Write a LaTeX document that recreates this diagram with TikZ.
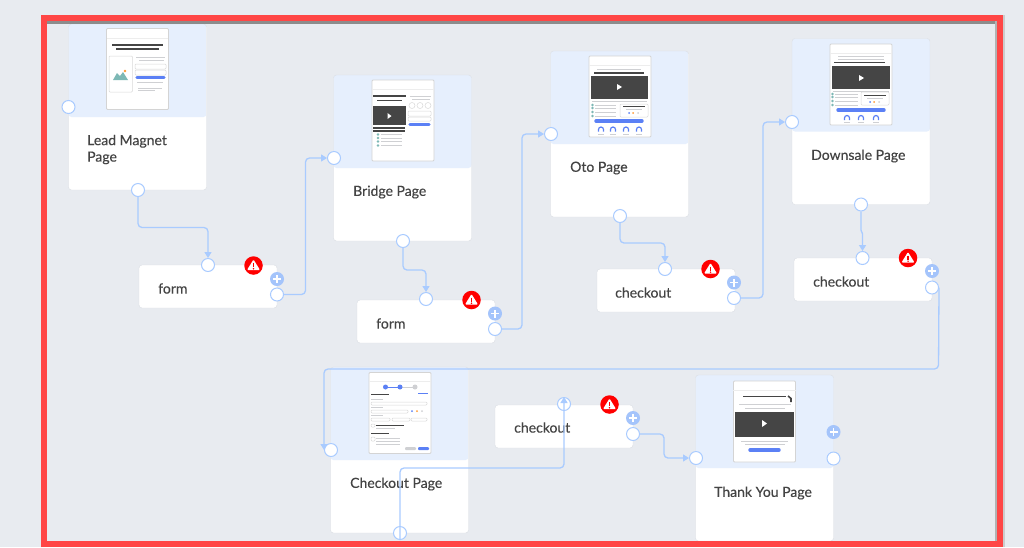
\documentclass[tikz,border=0pt]{standalone}
\usepackage{fontspec}
\setmainfont{Lato}[FakeBold=0.25]
\usetikzlibrary{arrows.meta}
\definecolor{backcol}{HTML}{E8EBF0}
\definecolor{framecol}{HTML}{FF4646}
\definecolor{headcol}{HTML}{E6EFFD}
\definecolor{wirecol}{HTML}{A9CBFF}
\definecolor{pluscol}{HTML}{A4C4FB}
\definecolor{edgecol}{HTML}{DADDE3}
\definecolor{textcol}{HTML}{444444}
\definecolor{darkcol}{HTML}{454545}
\definecolor{greycol}{HTML}{CFD0D3}
\definecolor{bluecol}{HTML}{5B80F5}
\definecolor{tealcol}{HTML}{7DB8B5}
\tikzset{
	card/.style={draw=edgecol, fill=white, rounded corners=3pt, minimum width=138pt, minimum height=166pt, inner sep=0pt,
		path picture={\fill[headcol] (path picture bounding box.north west) rectangle ([yshift=-93pt]path picture bounding box.north east);}},
	smallcard/.style={draw=edgecol, fill=white, rounded corners=3pt, minimum width=138pt, minimum height=43pt, inner sep=0pt},
	title/.style={anchor=west, inner sep=0pt, align=left, text=textcol, font=\fontsize{14}{16.5}\selectfont},
	port/.style={circle, draw=wirecol, line width=1pt, fill=white, minimum size=13pt, inner sep=0pt},
	plusmark/.style={circle, fill=pluscol, minimum size=14pt, inner sep=0pt,
		path picture={\draw[white, line width=1.6pt] ([xshift=-4pt]path picture bounding box.center) -- ([xshift=4pt]path picture bounding box.center);
			\draw[white, line width=1.6pt] ([yshift=-4pt]path picture bounding box.center) -- ([yshift=4pt]path picture bounding box.center);}},
	alertmark/.style={circle, fill=red, minimum size=18.5pt, inner sep=0pt,
		path picture={\fill[white, rounded corners=1pt] ([xshift=-6.5pt,yshift=-4.5pt]path picture bounding box.center) -- ([xshift=6.5pt,yshift=-4.5pt]path picture bounding box.center) -- ([yshift=6pt]path picture bounding box.center) -- cycle;
			\draw[red, line width=1.4pt] ([yshift=2.5pt]path picture bounding box.center) -- ([yshift=-1.5pt]path picture bounding box.center);
			\fill[red] ([yshift=-3.2pt]path picture bounding box.center) circle (0.8pt);}},
	wire/.style={draw=wirecol, line width=1.3pt, rounded corners=4pt, -{Triangle[length=6pt,width=7pt,fill=wirecol]}},
	thumb/.style={draw=black!17, line width=0.8pt, fill=white, rounded corners=1pt, minimum width=62pt, minimum height=81pt, inner sep=0pt},
	video/.style={fill=darkcol},
	play/.style={fill=white},
	dk/.style={draw=darkcol, line width=1.6pt},
	gy/.style={draw=greycol, line width=1pt},
	rule/.style={draw=black!7, line width=0.6pt},
	field/.style={draw=black!15, line width=0.5pt, fill=white, rounded corners=1pt},
	bl/.style={draw=bluecol, line width=3.4pt, line cap=round},
	bullet/.style={fill=tealcol}
}
\begin{document}
\begin{tikzpicture}[x=1pt, y=-1pt]
	\useasboundingbox (0,0) rectangle (1024,547);
	\fill[backcol] (0,0) rectangle (1024,547);
	% cards
	\node[card] (Lead) at (137.5,107) {};
	\node[card] (Bridge) at (402.5,158) {};
	\node[card] (Oto) at (619.5,134) {};
	\node[card] (Downsale) at (861,121.5) {};
	\node[card] (Checkout) at (399.5,450) {};
	\node[card] (Thanks) at (764.5,458) {};
	\node[smallcard] (FormA) at (208,286.5) {};
	\node[smallcard] (FormB) at (426,321.5) {};
	\node[smallcard] (CheckA) at (666,290.5) {};
	\node[smallcard] (CheckB) at (863,279.5) {};
	\node[smallcard] (CheckC) at (564,426.5) {};
	% titles
	\node[title] (LeadText) at (87,149.5) {Lead Magnet\\Page};
	\node[title] (BridgeText) at (353,192) {Bridge Page};
	\node[title] (OtoText) at (570,168) {Oto Page};
	\node[title] (DownsaleText) at (811,156) {Downsale Page};
	\node[title] (CheckoutText) at (350,484) {Checkout Page};
	\node[title] (ThanksText) at (714,493) {Thank You Page};
	\node[title] (FormAText) at (158,288.5) {form};
	\node[title] (FormBText) at (376,323.5) {form};
	\node[title] (CheckAText) at (615,292.5) {checkout};
	\node[title] (CheckBText) at (813,281.5) {checkout};
	\node[title] (CheckCText) at (514,427.5) {checkout};
	% lead magnet thumbnail
	\node[thumb] (LeadThumb) at (137.5,69) {};
	\draw[rule] (107,38) -- (168,38);
	\draw[dk] (112,45) -- (163,45);
	\draw[dk] (116,49) -- (159,49);
	\draw[field] (109,56) rectangle (132.5,92);
	\fill[tealcol] (113,80) -- (117,73) -- (120,76) -- (123,72) -- (128,80) -- cycle;
	\fill[orange!80] (125,71) circle (1.3);
	\draw[gy] (136,57.5) -- (165,57.5);
	\draw[gy] (139,60.5) -- (164,60.5);
	\draw[field] (135,64) rectangle (166,69);
	\draw[field] (135,70) rectangle (166,75);
	\draw[bl] (137,77.5) -- (164,77.5);
	\draw[gy] (137,82) -- (163,82);
	\draw[gy] (138,88.5) -- (162,88.5);
	\draw[gy] (138,90.5) -- (155,90.5);
	% bridge thumbnail
	\node[thumb] (BridgeThumb) at (403,120.5) {};
	\draw[rule] (372,89) -- (434,89);
	\draw[dk] (373,96) -- (406,96);
	\draw[dk] (377,100.5) -- (402,100.5);
	\draw[gy] (410,96) -- (431,96);
	\draw[gy] (412,99) -- (430,99);
	\foreach \x in {412,420,428} \draw[field] (\x,105.5) circle (3);
	\draw[field] (408,111) rectangle (431,116);
	\draw[field] (408,117) rectangle (431,121);
	\draw[bl] (410,124.5) -- (429,124.5);
	\fill[video] (373,106) rectangle (405.5,125);
	\fill[play] (387.5,113) -- (391.5,116) -- (387.5,119) -- cycle;
	\draw[dk] (373,128) -- (405,128);
	\draw[dk] (373,131) -- (405,131);
	\foreach \y in {134.5,138,141.5,145.5} {
		\fill[bullet] (378,\y) circle (1.4);
		\draw[gy] (381,\y) -- (402,\y);
	}
	% oto thumbnail
	\node[thumb] (OtoThumb) at (620,96.5) {};
	\draw[rule] (589,65) -- (651,65);
	\draw[gy] (597,69) -- (641,69);
	\draw[dk] (594,73) -- (644,73);
	\fill[video] (591,76) rectangle (648,98.5);
	\fill[play] (617,84) -- (622,87) -- (617,90) -- cycle;
	\draw[gy] (592,101) -- (647,101);
	\foreach \y in {105,108,112,116} {
		\fill[bullet] (592.5,\y) circle (1.4);
		\draw[gy] (595,\y) -- (616,\y);
	}
	\draw[field] (620,104) rectangle (648,117);
	\draw[dk, line width=0.9pt] (623,106.5) -- (645,106.5);
	\draw[gy] (626,109.5) -- (642,109.5);
	\fill[bluecol] (629,113) circle (1);
	\fill[orange!80] (633,113) circle (1);
	\fill[greycol] (638,113) circle (1);
	\draw[bl] (596,121) -- (642,121);
	\foreach \x in {601,613,626,639} {
		\draw[bluecol, line width=1.2pt] (\x-2.5,131.5) -- (\x-2.5,129.5) arc (180:360:2.5) -- (\x+2.5,131.5);
		\draw[gy] (\x-3,134) -- (\x+3,134);
	}
	% downsale thumbnail
	\node[thumb] (DownsaleThumb) at (861,84.5) {};
	\draw[rule] (830,53) -- (892,53);
	\draw[gy] (838,56) -- (884,56);
	\draw[gy] (838,59) -- (884,59);
	\draw[dk] (834,62.5) -- (885,62.5);
	\fill[video] (832,66) rectangle (890,89);
	\fill[play] (859,75) -- (864,78) -- (859,81) -- cycle;
	\draw[gy] (833,91) -- (889,91);
	\foreach \y in {94,97,101,105} {
		\fill[bullet] (832.5,\y) circle (1.4);
		\draw[gy] (835,\y) -- (858,\y);
	}
	\draw[field] (861,92) rectangle (889,105);
	\draw[dk, line width=0.9pt] (864,95) -- (886,95);
	\draw[gy] (867,98) -- (883,98);
	\fill[bluecol] (870,102) circle (1);
	\fill[orange!80] (874,102) circle (1);
	\fill[greycol] (879,102) circle (1);
	\draw[bl] (838,110) -- (884,110);
	\foreach \x in {847,861,876} {
		\draw[bluecol, line width=1.2pt] (\x-2.5,120) -- (\x-2.5,118) arc (180:360:2.5) -- (\x+2.5,120);
		\draw[gy] (\x-3,122.5) -- (\x+3,122.5);
	}
	% checkout thumbnail
	\node[thumb] (CheckoutThumb) at (400,413) {};
	\draw[rule] (369,381) -- (431,381);
	\draw[bluecol, line width=0.8pt] (385.5,387) -- (400,387);
	\draw[greycol, line width=0.8pt] (400,387) -- (415,387);
	\fill[bluecol] (385.5,387) circle (2.5);
	\fill[bluecol] (400,387) circle (2.5);
	\fill[greycol] (415,387) circle (2.5);
	\draw[dk, line width=1pt] (371,394) -- (389,394);
	\draw[bluecol, line width=0.9pt] (418,393.5) -- (428,393.5);
	\draw[gy] (371,399) -- (383,399);
	\draw[field] (371,402) rectangle (427,405);
	\draw[gy] (371,407.5) -- (383,407.5);
	\draw[field] (371,410) rectangle (408,413);
	\fill[bluecol] (412,411) circle (1);
	\fill[orange!80] (417,411) circle (1);
	\fill[greycol] (422,411) circle (1);
	\draw[gy] (371,415.5) -- (383,415.5);
	\draw[field] (371,418) rectangle (390,421);
	\draw[field] (392,418) rectangle (410,421);
	\draw[field] (411,418) rectangle (427,421);
	\draw[field] (371,424) rectangle (375,427);
	\draw[dk, line width=0.9pt] (376,425.5) -- (404,425.5);
	\draw[gy] (376,428) -- (395,428);
	\draw[dk, line width=1pt] (371,433) -- (389,433);
	\draw[field] (371,437) rectangle (375,441);
	\foreach \y in {438,441,444} \draw[gy] (376,\y) -- (400,\y);
	\fill[greycol, rounded corners=1pt] (405,447) rectangle (416,450);
	\fill[bluecol, rounded corners=1pt] (418,447) rectangle (429,450);
	% thank you thumbnail
	\node[thumb] (ThanksThumb) at (764.5,421.5) {};
	\draw[rule] (733,390) -- (796,390);
	\draw[dk] (743,396.5) -- (786,396.5);
	\draw[dk] (788,396) -- (791,398.5) -- (791,402);
	\draw[gy] (739,404.5) -- (791,404.5);
	\draw[gy] (745,408) -- (785,408);
	\fill[video] (735,411.5) rectangle (794,436.5);
	\fill[play] (762,420) -- (767,423.5) -- (762,427) -- cycle;
	\draw[gy] (741,441) -- (788,441);
	\draw[gy] (745,444) -- (785,444);
	\draw[bl] (750,450) -- (779,450);
	% ports
	\node[port] (LeadIn) at (68.5,107) {};
	\node[port] (LeadOut) at (138,190) {};
	\node[port] (FormAIn) at (208,265) {};
	\node[port] (FormAOut) at (277,294.5) {};
	\node[port] (BridgeIn) at (334,158) {};
	\node[port] (BridgeOut) at (403,241) {};
	\node[port] (FormBIn) at (426,299) {};
	\node[port] (FormBOut) at (495,329) {};
	\node[port] (OtoIn) at (551,134) {};
	\node[port] (OtoOut) at (620,216) {};
	\node[port] (CheckAIn) at (665,269) {};
	\node[port] (CheckAOut) at (734,298) {};
	\node[port] (DownsaleIn) at (792,122) {};
	\node[port] (DownsaleOut) at (861,204.5) {};
	\node[port] (CheckBIn) at (862.5,258) {};
	\node[port] (CheckBOut) at (932,287.5) {};
	\node[port] (CheckoutIn) at (331,450) {};
	\node[port] (CheckoutOut) at (400,533) {};
	\node[port] (CheckCIn) at (564,404) {};
	\node[port] (CheckCOut) at (633,434) {};
	\node[port] (ThanksIn) at (696,458) {};
	\node[port] (ThanksOut) at (833.5,458.5) {};
	% plus buttons
	\node[plusmark] (FormAPlus) at (277,279) {};
	\node[plusmark] (FormBPlus) at (495,313.5) {};
	\node[plusmark] (CheckAPlus) at (734,282.5) {};
	\node[plusmark] (CheckBPlus) at (932,271) {};
	\node[plusmark] (CheckCPlus) at (633,418) {};
	\node[plusmark] (ThanksPlus) at (833.5,432) {};
	% warnings
	\node[alertmark] (FormAAlert) at (253.5,265.5) {};
	\node[alertmark] (FormBAlert) at (471.5,300) {};
	\node[alertmark] (CheckAAlert) at (710.5,269) {};
	\node[alertmark] (CheckBAlert) at (908,258) {};
	\node[alertmark] (CheckCAlert) at (609.5,404.5) {};
	% connectors
	\draw[wire] (LeadOut) -- (138,227.5) -- (208,227.5) -- (FormAIn);
	\draw[wire] (FormAOut) -- (305.5,294.5) -- (305.5,158) -- (BridgeIn);
	\draw[wire] (BridgeOut) -- (403,270) -- (426,270) -- (FormBIn);
	\draw[wire] (FormBOut) -- (522,329) -- (522,134) -- (OtoIn);
	\draw[wire] (OtoOut) -- (620,243) -- (665,243) -- (CheckAIn);
	\draw[wire] (CheckAOut) -- (763,298) -- (763,122) -- (DownsaleIn);
	\draw[wire, rounded corners=1pt] (DownsaleOut) -- (861,231) -- (862.5,233) -- (CheckBIn);
	\draw[wire] (CheckBOut.east) -- (938.5,369) -- (324,369) -- (CheckoutIn.west);
	\draw[wire] (CheckoutOut.south) -- (400,468) -- (564,468) -- (CheckCIn.north);
	\draw[wire] (CheckCOut) -- (664,434) -- (664,458) -- (ThanksIn);
	% red frame
	\draw[black!45, line width=4pt] (47,22) -- (997,22);
	\draw[black!30, line width=2pt] (996,20) -- (996,541);
	\draw[black!20, line width=2pt] (1004,15) -- (1004,547);
	\draw[framecol, line width=6pt] (44,547) -- (44,18) -- (1000,18) -- (1000,544) -- (44,544);
\end{tikzpicture}
\end{document}
